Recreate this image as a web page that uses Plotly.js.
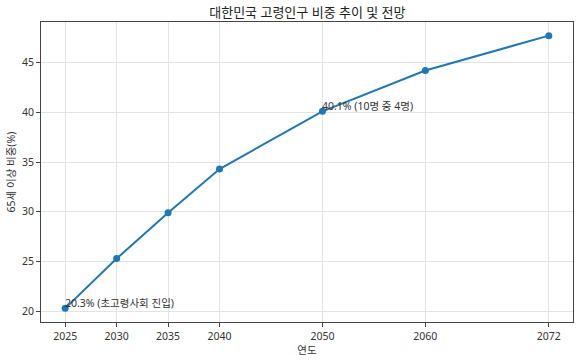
<!DOCTYPE html>
<html>
<head>
<meta charset="utf-8">
<script src="https://cdn.plot.ly/plotly-3.0.1.min.js"></script>
<style>html,body{margin:0;padding:0;background:#fff}#chart{width:580px;height:361px}</style>
</head>
<body>
<div id="chart"></div>
<script>
const years = [2025, 2030, 2035, 2040, 2050, 2060, 2072];
const shares = [20.3, 25.3, 29.9, 34.3, 40.1, 44.2, 47.7];
const yTicks = [20, 25, 30, 35, 40, 45];
const noteYears = [2025, 2050];
const noteValues = [20.3, 40.1];
const noteTexts = ['20.3% (초고령사회 진입)', '40.1% (10명 중 4명)'];

const font = "'Noto Sans', 'Noto Sans CJK KR', sans-serif";
const trace = {
  x: years, y: shares, type: 'scatter', mode: 'lines+markers',
  line: {color: '#1f77b4', width: 2}, marker: {color: '#1f77b4', size: 7},
  hoverinfo: 'skip'
};
const annotations = noteYears.map((yr, i) => ({
  x: yr, y: noteValues[i], xref: 'x', yref: 'y', text: noteTexts[i],
  showarrow: false, xanchor: 'left', yanchor: 'bottom', yshift: -4, xshift: -2,
  font: {family: font, size: 10.5, color: '#333'}
}));
const layout = {
  width: 580, height: 361,
  margin: {l: 41, r: 7, t: 22, b: 39},
  paper_bgcolor: '#fff', plot_bgcolor: '#fff',
  font: {family: font, size: 10.5, color: '#333'},
  title: {text: '대한민국 고령인구 비중 추이 및 전망', x: 0.53, xanchor: 'center', y: 0.965, yanchor: 'middle', font: {family: font, size: 13, color: '#222'}},
  xaxis: {
    range: [2022.65, 2074.35], tickmode: 'array', tickvals: years, ticktext: years.map(String),
    showgrid: true, gridcolor: '#e3e3e3', gridwidth: 1,
    showline: true, linecolor: '#444', linewidth: 1, mirror: true,
    ticks: 'outside', ticklen: 4, tickcolor: '#444', zeroline: false,
    title: {text: '연도', standoff: 0, font: {family: font, size: 10.5, color: '#333'}}
  },
  yaxis: {
    range: [18.93, 49.07], tickmode: 'array', tickvals: yTicks,
    showgrid: true, gridcolor: '#e3e3e3', gridwidth: 1,
    showline: true, linecolor: '#444', linewidth: 1, mirror: true,
    ticks: 'outside', ticklen: 4, tickcolor: '#444', zeroline: false,
    title: {text: '65세 이상 비중(%)', standoff: 4, font: {family: font, size: 10.5, color: '#333'}}
  },
  annotations: annotations,
  showlegend: false
};
Plotly.newPlot('chart', [trace], layout, {displayModeBar: false, staticPlot: true});
</script>
</body>
</html>
